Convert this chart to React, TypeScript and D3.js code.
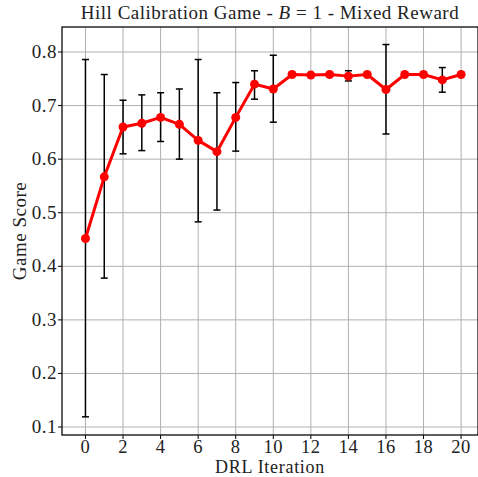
import React from "react";
import * as d3 from "d3";

const iterations = [0, 1, 2, 3, 4, 5, 6, 7, 8, 9, 10, 11, 12, 13, 14, 15, 16, 17, 18, 19, 20];
const meanScore = [0.452, 0.567, 0.660, 0.667, 0.678, 0.665, 0.635, 0.614, 0.678, 0.740, 0.731, 0.758, 0.757, 0.758, 0.755, 0.758, 0.730, 0.758, 0.758, 0.748, 0.758];
const upperScore = [0.786, 0.758, 0.710, 0.720, 0.724, 0.731, 0.786, 0.724, 0.743, 0.765, 0.794, 0.758, 0.757, 0.758, 0.765, 0.758, 0.814, 0.758, 0.758, 0.771, 0.758];
const lowerScore = [0.119, 0.378, 0.610, 0.616, 0.633, 0.600, 0.483, 0.505, 0.615, 0.712, 0.669, 0.758, 0.757, 0.758, 0.746, 0.758, 0.647, 0.758, 0.758, 0.725, 0.758];
const xTicks = [0, 2, 4, 6, 8, 10, 12, 14, 16, 18, 20];
const yTicks = [0.1, 0.2, 0.3, 0.4, 0.5, 0.6, 0.7, 0.8];

const W = 478, H = 477;
const L = 62, R = 478, T = 27, B = 435;
const FONT = "'Liberation Serif', 'DejaVu Serif', serif";
const FS = 19;
const LS = 0.5;

export default function App() {
  const x = d3.scaleLinear().domain([-1.25, 20.9]).range([L, R]);
  const y = d3.scaleLinear().domain([0.0851, 0.8467]).range([B, T]);
  const line = d3.line<number>().x((_, i) => x(iterations[i])).y((d) => y(d));
  const fmt = d3.format(".1f");
  return (
    <svg width={W} height={H} style={{ position: "absolute", left: 0, top: 0, background: "#fff" }} fontFamily={FONT}>
      {xTicks.map((t) => (
        <line key={"gx" + t} x1={x(t)} x2={x(t)} y1={T} y2={B} stroke="#b0b0b0" strokeWidth={1} />
      ))}
      {yTicks.map((t) => (
        <line key={"gy" + t} x1={L} x2={R} y1={y(t)} y2={y(t)} stroke="#b0b0b0" strokeWidth={1} />
      ))}
      {iterations.map((it, i) => (
        <g key={"e" + i} stroke="#000" strokeWidth={1.5}>
          <line x1={x(it)} x2={x(it)} y1={y(upperScore[i])} y2={y(lowerScore[i])} />
          <line x1={x(it) - 3.5} x2={x(it) + 3.5} y1={y(upperScore[i])} y2={y(upperScore[i])} />
          <line x1={x(it) - 3.5} x2={x(it) + 3.5} y1={y(lowerScore[i])} y2={y(lowerScore[i])} />
        </g>
      ))}
      <path d={line(meanScore) || ""} fill="none" stroke="#ff0000" strokeWidth={3} strokeLinejoin="round" />
      {meanScore.map((v, i) => (
        <circle key={"p" + i} cx={x(iterations[i])} cy={y(v)} r={4.5} fill="#ff0000" />
      ))}
      <rect x={L} y={T} width={R - L} height={B - T} fill="none" stroke="#000" strokeWidth={1.25} />
      {xTicks.map((t) => (
        <g key={"xt" + t}>
          <line x1={x(t)} x2={x(t)} y1={B} y2={B + 4} stroke="#000" strokeWidth={1} />
          <text x={x(t)} y={453} textAnchor="middle" fontSize={18.5} letterSpacing={LS} fill="#222">{t}</text>
        </g>
      ))}
      {yTicks.map((t) => (
        <g key={"yt" + t}>
          <line x1={L - 4} x2={L} y1={y(t)} y2={y(t)} stroke="#000" strokeWidth={1} />
          <text x={L - 5} y={y(t) + 6} textAnchor="end" fontSize={FS} letterSpacing={LS} fill="#222">{fmt(t)}</text>
        </g>
      ))}
      <text x={(L + R) / 2} y={473} textAnchor="middle" fontSize={18} letterSpacing={0.7} fill="#222">DRL Iteration</text>
      <text transform={`translate(26, ${(T + B) / 2}) rotate(-90)`} textAnchor="middle" fontSize={FS} letterSpacing={LS} fill="#222">Game Score</text>
      <text x={(L + R) / 2} y={19} textAnchor="middle" fontSize={FS} letterSpacing={LS} fill="#222">
        Hill Calibration Game - <tspan fontStyle="italic">B</tspan> = 1 - Mixed Reward
      </text>
    </svg>
  );
}
